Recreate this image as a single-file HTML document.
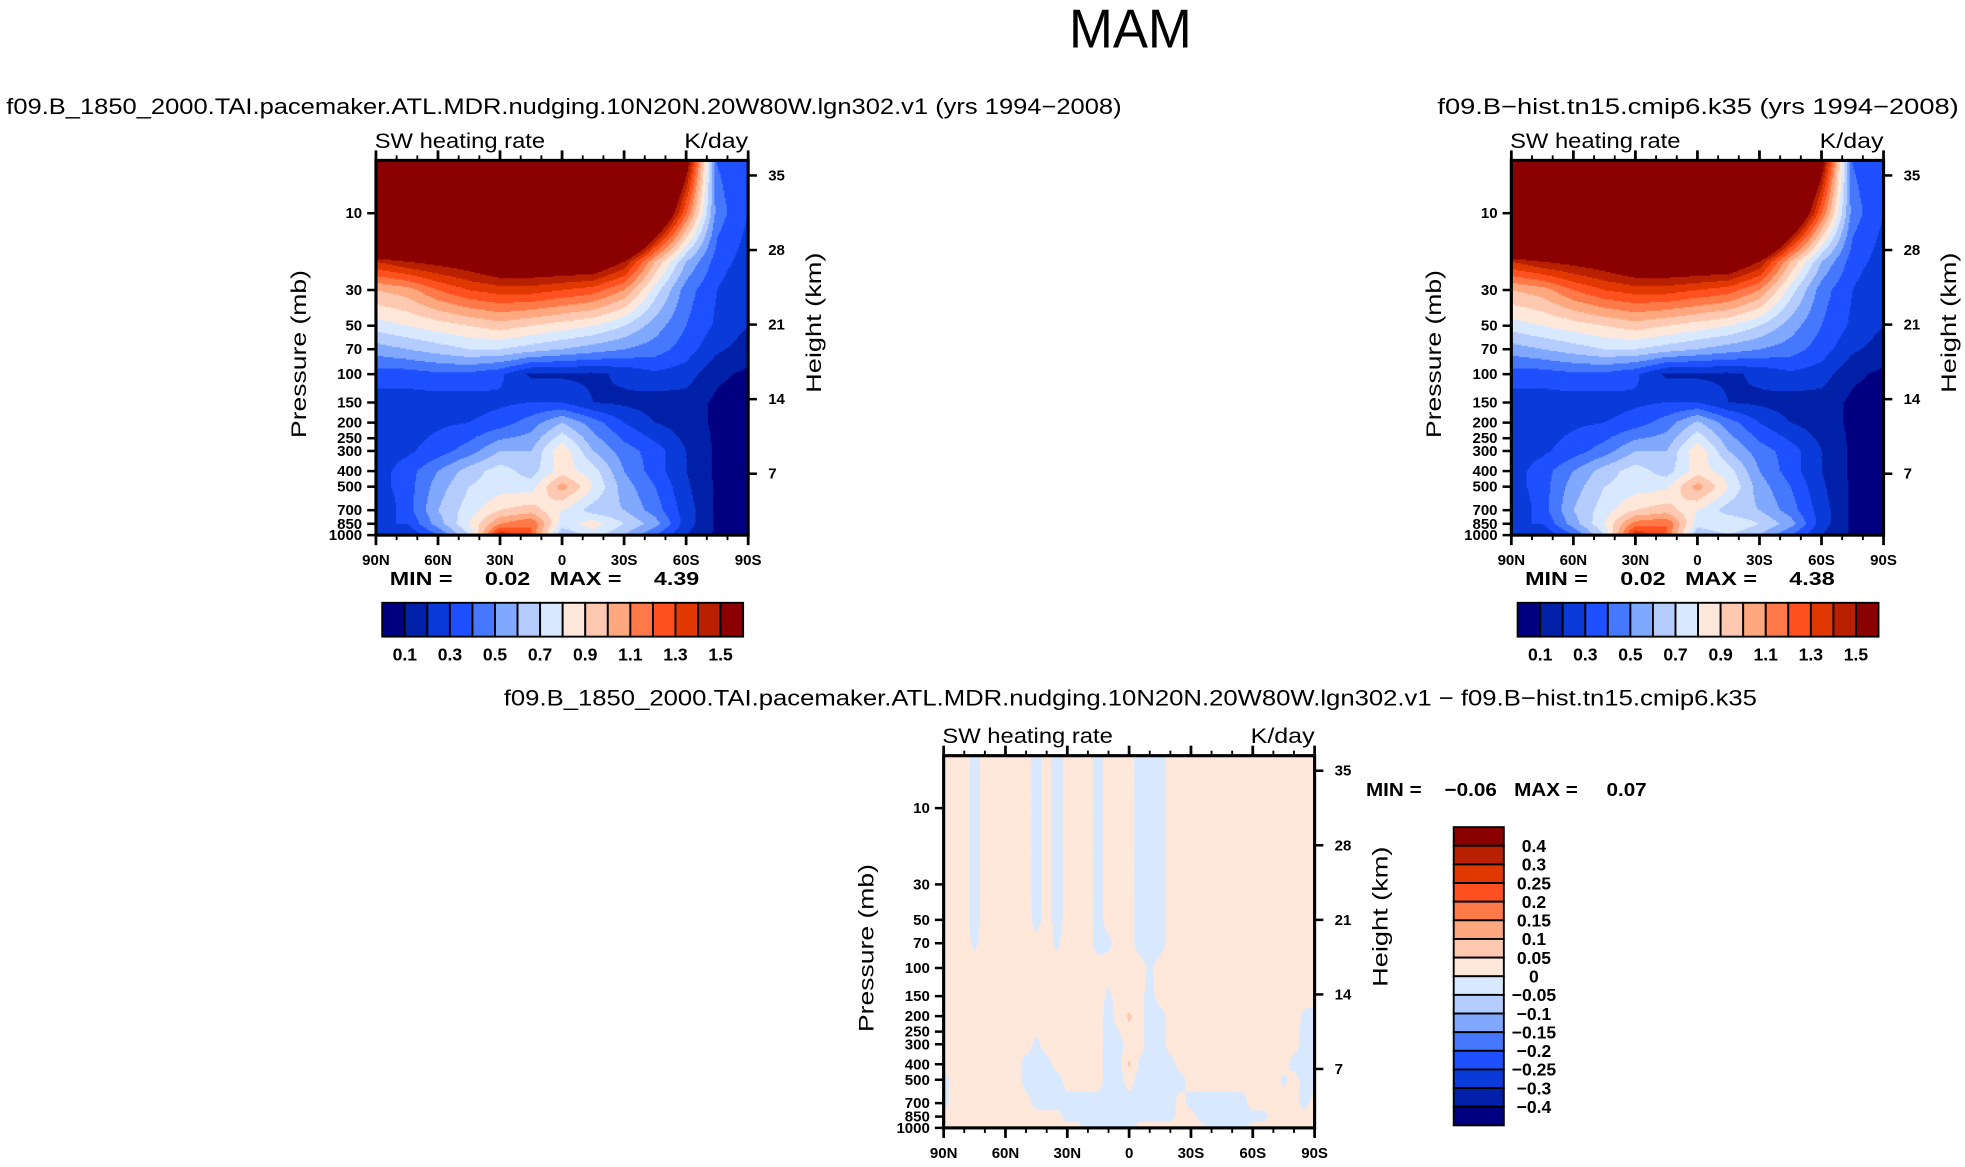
<!DOCTYPE html>
<html><head><meta charset="utf-8"><title>MAM SW heating rate</title>
<style>
html,body{margin:0;padding:0;background:#fff;}
svg{display:block;}
text{font-family:"Liberation Sans",sans-serif;fill:#000;}
.tk{font-size:12px;font-weight:bold;}
.lb{font-size:17px;}
.st{font-size:18px;}
</style></head>
<body>
<svg id="fig" width="1965" height="1167" viewBox="0 0 1568 931.2" xmlns="http://www.w3.org/2000/svg">
<text x="902" y="38" text-anchor="middle" textLength="98" lengthAdjust="spacingAndGlyphs" style="font-size:44px;font-weight:300;">MAM</text>
<text x="5" y="91" class="st" textLength="890" lengthAdjust="spacingAndGlyphs">f09.B_1850_2000.TAI.pacemaker.ATL.MDR.nudging.10N20N.20W80W.lgn302.v1 (yrs 1994−2008)</text>
<text x="1147" y="91" class="st" textLength="416" lengthAdjust="spacingAndGlyphs">f09.B−hist.tn15.cmip6.k35 (yrs 1994−2008)</text>
<text x="402" y="563" class="st" textLength="1000" lengthAdjust="spacingAndGlyphs">f09.B_1850_2000.TAI.pacemaker.ATL.MDR.nudging.10N20N.20W80W.lgn302.v1 − f09.B−hist.tn15.cmip6.k35</text>
<g id="plots"></g>
</svg>
<script>
// ---- data ----
const lats13 = [90,75,60,45,30,15,0,-15,-30,-45,-60,-75,-90];
const levels = [5,10,20,30,50,70,100,150,200,300,400,500,700,850,1000];
const swLeft = [
 [3,3,3,3,3,3,3,3,3,2.5,1.6,0.4,0.3],
 [3,3,3,3,3,3,3,3,3,2,1.2,0.45,0.3],
 [1.4,1.5,1.55,1.6,1.7,1.7,1.7,1.7,1.5,1.0,0.6,0.35,0.25],
 [1.0,1.05,1.2,1.3,1.35,1.35,1.3,1.25,1.1,0.75,0.45,0.3,0.2],
 [0.75,0.8,0.85,0.9,0.95,0.9,0.85,0.8,0.7,0.55,0.4,0.28,0.2],
 [0.55,0.6,0.65,0.7,0.7,0.65,0.6,0.55,0.5,0.45,0.35,0.22,0.15],
 [0.35,0.35,0.38,0.38,0.32,0.18,0.18,0.18,0.22,0.28,0.25,0.12,0.08],
 [0.25,0.25,0.25,0.25,0.28,0.3,0.3,0.2,0.18,0.15,0.15,0.08,0.05],
 [0.25,0.25,0.28,0.3,0.35,0.45,0.6,0.45,0.3,0.2,0.15,0.08,0.05],
 [0.25,0.28,0.35,0.45,0.6,0.6,0.88,0.6,0.45,0.35,0.2,0.08,0.05],
 [0.25,0.35,0.5,0.65,0.75,0.65,0.85,0.75,0.5,0.35,0.2,0.08,0.05],
 [0.25,0.35,0.55,0.7,0.75,0.75,1.05,0.8,0.55,0.4,0.22,0.08,0.05],
 [0.2,0.35,0.6,0.75,0.9,0.95,0.8,0.65,0.6,0.45,0.25,0.08,0.04],
 [0.3,0.3,0.55,0.8,1.1,1.2,0.75,0.85,0.7,0.55,0.25,0.08,0.04],
 [0.2,0.2,0.4,0.7,1.4,1.2,0.6,0.75,0.6,0.4,0.2,0.08,0.04]
];
const swRight = [
 [3,3,3,3,3,3,3,3,3,2.5,1.6,0.4,0.3],
 [3,3,3,3,3,3,3,3,3,2,1.2,0.45,0.3],
 [1.4,1.5,1.55,1.6,1.7,1.7,1.7,1.7,1.5,1.0,0.6,0.35,0.25],
 [1.0,1.05,1.2,1.3,1.35,1.35,1.3,1.25,1.1,0.75,0.45,0.3,0.2],
 [0.75,0.8,0.85,0.9,0.95,0.9,0.85,0.8,0.7,0.55,0.4,0.28,0.2],
 [0.55,0.6,0.65,0.7,0.7,0.65,0.6,0.55,0.5,0.45,0.35,0.22,0.15],
 [0.35,0.35,0.38,0.38,0.32,0.18,0.18,0.18,0.22,0.28,0.25,0.12,0.08],
 [0.25,0.25,0.25,0.25,0.28,0.3,0.3,0.2,0.18,0.15,0.15,0.08,0.05],
 [0.25,0.25,0.28,0.3,0.35,0.45,0.62,0.45,0.3,0.2,0.15,0.08,0.05],
 [0.25,0.28,0.35,0.45,0.6,0.6,0.88,0.6,0.45,0.35,0.2,0.08,0.05],
 [0.25,0.35,0.5,0.65,0.75,0.65,0.85,0.75,0.5,0.35,0.2,0.08,0.05],
 [0.25,0.35,0.55,0.7,0.75,0.78,1.05,0.8,0.55,0.4,0.22,0.08,0.05],
 [0.2,0.35,0.6,0.75,0.9,0.95,0.8,0.65,0.6,0.45,0.25,0.08,0.04],
 [0.3,0.3,0.55,0.8,1.15,1.2,0.75,0.8,0.7,0.55,0.25,0.08,0.04],
 [0.2,0.2,0.4,0.7,1.4,1.2,0.6,0.7,0.6,0.4,0.2,0.08,0.04]
];
const lats37 = Array.from({length:37},(_,i)=>90-5*i);
// difference field in hundredths of K/day
const diffHundredths = [
 [2,2,2,-2,2,2,2,2,2,-2,2,-2,2,2,2,-2,2,2,2,-2,-2,-2,2,2,2,2,2,2,2,2,2,2,2,2,2,2,2],
 [2,2,2,-2,2,2,2,2,2,-2,2,-2,2,2,2,-2,2,2,2,-2,-2,-2,2,2,2,2,2,2,2,2,2,2,2,2,2,2,2],
 [2,2,2,-2,2,2,2,2,2,-2,2,-2,2,2,2,-2,2,2,2,-2,-2,-2,2,2,2,2,2,2,2,2,2,2,2,2,2,2,2],
 [2,2,2,-2,2,2,2,2,2,-2,2,-2,2,2,2,-2,2,2,2,-2,-2,-2,2,2,2,2,2,2,2,2,2,2,2,2,2,2,2],
 [2,2,2,-2,2,2,2,2,2,-2,2,-2,2,2,2,-2,2,2,2,-2,-2,-2,2,2,2,2,2,2,2,2,2,2,2,2,2,2,2],
 [2,2,2,-1,2,2,2,2,2,2,2,-1,2,2,2,-2,-1,2,2,-2,-2,-2,2,2,2,2,2,2,2,2,2,2,2,2,2,2,2],
 [2,2,2,2,2,2,2,2,2,2,2,2,2,2,2,2,2,2,2,2,-1,2,2,2,2,2,2,2,2,2,2,2,2,2,2,2,2],
 [2,2,2,2,2,2,2,2,2,2,2,2,2,2,2,2,-1,2,2,2,-2,2,2,2,2,2,2,2,2,2,2,2,2,2,2,2,2],
 [2,2,2,2,2,2,2,2,2,2,2,2,2,2,2,2,-2,2,6,2,-2,-2,2,2,2,2,2,2,2,2,2,2,2,2,2,-1,-2],
 [2,2,2,2,2,2,2,2,2,-1,2,2,2,2,2,2,-2,-2,2,2,-2,-2,2,2,2,2,2,2,2,2,2,2,2,2,2,-2,-2],
 [2,2,2,2,2,2,2,2,-2,-2,-2,2,2,2,2,2,-2,-2,6,-1,-2,-2,-2,2,2,2,2,2,2,2,2,2,2,2,-2,-2,-2],
 [-2,2,2,2,2,2,2,2,-2,-2,-2,-2,2,2,2,2,-2,-2,2,-2,-2,-2,-2,-2,2,2,2,2,2,2,2,2,2,-1,2,-2,-2],
 [-2,2,2,2,2,2,2,2,2,-2,-2,-2,-2,-2,-2,-2,-2,-2,-2,-2,-2,-2,-2,2,-2,-2,-2,-2,-2,-2,2,2,2,2,2,-2,2],
 [2,2,2,2,2,2,2,2,2,2,2,2,-2,-2,-2,-2,-2,-2,-2,-2,-2,-2,-2,2,2,-2,-2,-2,-2,-2,-2,-2,2,2,2,2,2],
 [2,2,2,2,2,2,2,2,2,2,2,2,2,2,-2,-2,-2,-2,-2,2,2,2,2,2,2,2,-2,-2,-2,-2,2,2,2,2,2,2,2]
];
const swThresholds = [0.1,0.2,0.3,0.4,0.5,0.6,0.7,0.8,0.9,1.0,1.1,1.2,1.3,1.4,1.5];
const swTickLabels = ["0.1","0.3","0.5","0.7","0.9","1.1","1.3","1.5"];
const diffThresholds = [-0.4,-0.3,-0.25,-0.2,-0.15,-0.1,-0.05,0,0.05,0.1,0.15,0.2,0.25,0.3,0.4];
const diffTickLabels = ["-0.4","-0.3","-0.25","-0.2","-0.15","-0.1","-0.05","0","0.05","0.1","0.15","0.2","0.25","0.3","0.4"];
const palette = ["#000080","#0020A8","#0A3AD8","#1E50FF","#4678FF","#80A8FF","#B4CCFF","#D8E8FF","#FFE8DA","#FFC8B0","#FFA880","#FF7A48","#FF5020","#E03800","#B82000","#8B0000"];
const pLabels = [10,30,50,70,100,150,200,250,300,400,500,700,850,1000];
const hLabels = [35,28,21,14,7];
const latTicks = [90,60,30,0,-30,-60,-90];
const latTickText = ["90N","60N","30N","0","30S","60S","90S"];

const NS="http://www.w3.org/2000/svg";
const root=document.getElementById('plots');
function mk(tag,attrs,parent){const e=document.createElementNS(NS,tag);for(const k in attrs)e.setAttribute(k,attrs[k]);(parent||root).appendChild(e);return e;}
function txt(s,attrs,parent){const e=mk('text',attrs,parent);e.textContent=s;return e;}

const PTOP=4.7;
function sample(grid,lats,lat,p){
  const nx=lats.length;
  let fi=(lats[0]-lat)/(lats[0]-lats[nx-1])*(nx-1);
  fi=Math.max(0,Math.min(nx-1.0001,fi));
  const i0=Math.floor(fi),tx=fi-i0;
  const lp=Math.log10(Math.max(levels[0],Math.min(1000,p)));
  let j0=0;while(j0<levels.length-2&&Math.log10(levels[j0+1])<lp)j0++;
  const a=Math.log10(levels[j0]),b=Math.log10(levels[j0+1]);
  const ty=Math.max(0,Math.min(1,(lp-a)/(b-a)));
  const g=(j,i)=>grid[j][i];
  const v0=g(j0,i0)*(1-tx)+g(j0,i0+1)*tx;
  const v1=g(j0+1,i0)*(1-tx)+g(j0+1,i0+1)*tx;
  return v0*(1-ty)+v1*ty;
}
function colorIdx(v,th){let k=0;while(k<th.length&&v>=th[k])k++;return k;}

function drawPanel(name,L,T,W,H,grid,lats,scale,th){
  const g=mk('g',{});
  
  
  const xOf=lat=>L+(90-lat)/180*W;
  const yOf=p=>T+(Math.log10(p)-Math.log10(PTOP))/(3-Math.log10(PTOP))*H;
  const fill=mk('g',{},g);
  
  
  const step=1;
  for(let y=T;y<T+H;y+=step){
    const p=Math.pow(10,Math.log10(PTOP)+((y+step/2-T)/H)*(3-Math.log10(PTOP)));
    let runStart=L,runC=-1;
    for(let x=L;x<=L+W;x+=1){
      let c=-2;
      if(x<L+W){const lat=90-(x+0.5-L)/W*180;c=colorIdx(sample(grid,lats,lat,p)*scale,th);}
      if(c!==runC){
        if(runC>=0){const r=mk('rect',{x:runStart,y:y,width:x-runStart+0.4,height:step+0.4,fill:palette[runC]},fill);
          }
        runStart=x;runC=c;
      }
    }
  }
  const fr=mk('rect',{x:L,y:T,width:W,height:H,fill:'none',stroke:'#000','stroke-width':2.5},g);
  
  for(let lat=90;lat>=-90;lat-=10){
    const x=xOf(lat),maj=lat%30===0,len=maj?8:4;
    mk('line',{x1:x,y1:T,x2:x,y2:T-len,stroke:'#000','stroke-width':maj?2.2:1.5},g);
    mk('line',{x1:x,y1:T+H,x2:x,y2:T+H+len,stroke:'#000','stroke-width':maj?2.2:1.5},g);
  }
  latTicks.forEach((lat,i)=>{const t=txt(latTickText[i],{x:xOf(lat),y:T+H+24,'text-anchor':'middle',class:'tk'},g);
    });
  pLabels.forEach(p=>{const y=yOf(p);
    mk('line',{x1:L,y1:y,x2:L-7,y2:y,stroke:'#000','stroke-width':2},g);
    const t=txt(String(p),{x:L-11,y:y+4,'text-anchor':'end',class:'tk'},g);
    });
  hLabels.forEach(h=>{const y=T+12+(35-h)*8.5;
    mk('line',{x1:L+W,y1:y,x2:L+W+7,y2:y,stroke:'#000','stroke-width':2},g);
    const t=txt(String(h),{x:L+W+16,y:y+4,class:'tk'},g);
    });
  const yl=txt('Pressure  (mb)',{x:0,y:0,transform:`translate(${L-56},${T+H/2+5}) rotate(-90)`,'text-anchor':'middle',class:'lb',textLength:'134',lengthAdjust:'spacingAndGlyphs'},g);
  
  const yr=txt('Height  (km)',{x:0,y:0,transform:`translate(${L+W+58},${T+H/2-20}) rotate(-90)`,'text-anchor':'middle',class:'lb',textLength:'112',lengthAdjust:'spacingAndGlyphs'},g);
  
  const s1=txt('SW heating rate',{x:L-1,y:T-10,class:'lb',textLength:'136',lengthAdjust:'spacingAndGlyphs'},g);
  
  const s2=txt('K/day',{x:L+W-51,y:T-10,class:'lb',textLength:'51',lengthAdjust:'spacingAndGlyphs'},g);
  
  return g;
}

function hColorbar(name,L,T,W,H,labels){
  const g=mk('g',{});
  
  const bw=W/palette.length;
  palette.forEach((c,i)=>{const r=mk('rect',{x:L+i*bw,y:T,width:bw,height:H,fill:c,stroke:'#000','stroke-width':1.5},g);
    });
  labels.forEach((s,k)=>{const t=txt(s,{x:L+(2*k+1)*bw,y:T+H+19,'text-anchor':'middle',class:'tk',style:'font-size:14px'},g);
    });
}
function vColorbar(name,L,T,W,H,labels){
  const g=mk('g',{});
  
  const bh=H/palette.length;
  palette.slice().reverse().forEach((c,i)=>{const r=mk('rect',{x:L,y:T+i*bh,width:W,height:bh,fill:c,stroke:'#000','stroke-width':1.5},g);
    });
  labels.slice().reverse().forEach((s,k)=>{const t=txt(s.replace('-','−'),{x:L+64,y:T+(k+1)*bh+5,'text-anchor':'middle',class:'tk',style:'font-size:14px'},g);
    });
}

drawPanel('left-panel',300,128,297,299,swLeft,lats13,1,swThresholds);
drawPanel('right-panel',1206,128,297,299,swRight,lats13,1,swThresholds);
drawPanel('diff-panel',753,603,296,297,diffHundredths,lats37,0.01,diffThresholds);

let t;
t=txt('MIN =     0.02   MAX =     4.39',{x:311,y:467,class:'tk',style:'font-size:15px;white-space:pre',textLength:'247',lengthAdjust:'spacingAndGlyphs'});

t=txt('MIN =     0.02   MAX =     4.38',{x:1217,y:467,class:'tk',style:'font-size:15px;white-space:pre',textLength:'247',lengthAdjust:'spacingAndGlyphs'});

t=txt('MIN =    −0.06   MAX =     0.07',{x:1090,y:635,class:'tk',style:'font-size:15px;white-space:pre',textLength:'224',lengthAdjust:'spacingAndGlyphs'});


hColorbar('left-colorbar',305,481,288,27,swTickLabels);
hColorbar('right-colorbar',1211,481,288,27,swTickLabels);
vColorbar('diff-colorbar',1160,660,40,238,diffTickLabels);
</script>
</body></html>
